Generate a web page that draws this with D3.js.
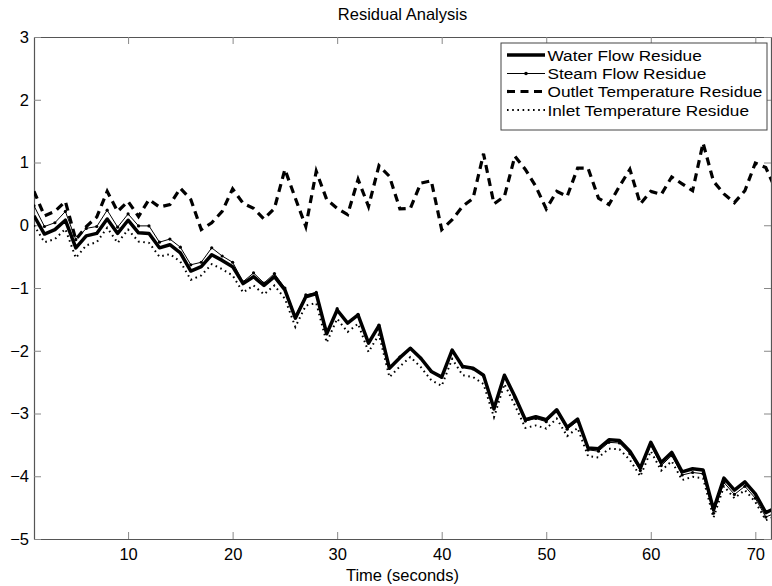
<!DOCTYPE html>
<html>
<head>
<meta charset="utf-8">
<script src="https://cdn.jsdelivr.net/npm/d3@7"></script>
<style>
  html, body { margin: 0; padding: 0; background: #fff; }
  svg { display: block; }
  text { font-family: Arial, "Liberation Sans", Helvetica, sans-serif; fill: #000; }
</style>
</head>
<body>
<svg id="chart" width="772" height="586"></svg>
<script>
// ---------------- data ----------------
const time = d3.range(1, 73); // sample times 1..72 s
const xTicks = [10, 20, 30, 40, 50, 60, 70];
const yTicks = [-5, -4, -3, -2, -1, 0, 1, 2, 3];

const waterFlow = [
  0.15, -0.14, -0.07, 0.08, -0.36, -0.17, -0.13, 0.10, -0.13, 0.08,
  -0.12, -0.13, -0.36, -0.31, -0.44, -0.73, -0.66, -0.47, -0.56, -0.66,
  -0.93, -0.82, -0.96, -0.82, -1.03, -1.48, -1.14, -1.09, -1.73, -1.35,
  -1.56, -1.43, -1.88, -1.60, -2.28, -2.11, -1.96, -2.12, -2.33, -2.42,
  -1.99, -2.25, -2.28, -2.39, -2.92, -2.39, -2.73, -3.10, -3.05, -3.10,
  -2.94, -3.22, -3.09, -3.55, -3.56, -3.42, -3.43, -3.60, -3.87, -3.46,
  -3.78, -3.62, -3.93, -3.88, -3.90, -4.53, -4.03, -4.22, -4.09, -4.28,
  -4.58, -4.50
];
const steamFlow = [
  0.31, -0.02, 0.04, 0.22, -0.23, -0.05, -0.02, 0.24, -0.03, 0.18,
  -0.01, -0.01, -0.27, -0.22, -0.35, -0.63, -0.59, -0.36, -0.49, -0.59,
  -0.90, -0.76, -0.92, -0.77, -1.00, -1.45, -1.11, -1.07, -1.71, -1.33,
  -1.55, -1.42, -1.87, -1.59, -2.27, -2.10, -1.96, -2.12, -2.33, -2.42,
  -2.00, -2.26, -2.29, -2.40, -2.93, -2.41, -2.75, -3.12, -3.08, -3.13,
  -2.97, -3.25, -3.12, -3.58, -3.60, -3.46, -3.47, -3.64, -3.91, -3.51,
  -3.83, -3.67, -3.98, -3.94, -3.96, -4.59, -4.10, -4.29, -4.16, -4.35,
  -4.65, -4.58
];
const outletTemp = [
  0.54, 0.15, 0.22, 0.38, -0.23, -0.02, 0.13, 0.54, 0.22, 0.38,
  0.14, 0.41, 0.29, 0.33, 0.59, 0.41, -0.07, 0.04, 0.22, 0.58,
  0.35, 0.27, 0.10, 0.27, 0.89, 0.43, -0.02, 0.86, 0.41, 0.27,
  0.17, 0.73, 0.30, 0.95, 0.78, 0.26, 0.27, 0.67, 0.71, -0.07,
  0.09, 0.30, 0.43, 1.14, 0.34, 0.46, 1.10, 0.89, 0.62, 0.26,
  0.54, 0.46, 0.91, 0.91, 0.43, 0.33, 0.62, 0.89, 0.34, 0.54,
  0.49, 0.77, 0.66, 0.55, 1.31, 0.70, 0.50, 0.36, 0.55, 0.99,
  0.92, 0.55
];
const inletTemp = [
  0.00, -0.27, -0.22, -0.06, -0.52, -0.32, -0.27, -0.04, -0.28, -0.07,
  -0.26, -0.28, -0.50, -0.46, -0.58, -0.87, -0.80, -0.62, -0.70, -0.80,
  -1.07, -0.96, -1.10, -0.96, -1.17, -1.62, -1.28, -1.24, -1.87, -1.49,
  -1.70, -1.57, -2.02, -1.74, -2.42, -2.25, -2.10, -2.26, -2.47, -2.56,
  -2.13, -2.39, -2.42, -2.53, -3.06, -2.53, -2.87, -3.23, -3.19, -3.24,
  -3.08, -3.36, -3.23, -3.68, -3.70, -3.56, -3.57, -3.74, -4.00, -3.60,
  -3.91, -3.76, -4.06, -4.01, -4.03, -4.66, -4.16, -4.35, -4.22, -4.41,
  -4.70, -4.63
];
const seriesNames = ["Water Flow Residue", "Steam Flow Residue", "Outlet Temperature Residue", "Inlet Temperature Residue"];

// ---------------- layout ----------------
const L = 34, R = 771, T = 37, B = 539;
const svg = d3.select("#chart");

const x = d3.scaleLinear().domain([1, 71.5]).range([L, R]);
const y = d3.scaleLinear().domain([-5, 3]).range([B, T]);

svg.append("defs").append("clipPath").attr("id", "plotclip")
  .append("rect").attr("x", L).attr("y", T).attr("width", R - L).attr("height", B - T);

// title and label
svg.append("text").attr("x", (L + R) / 2).attr("y", 20).attr("text-anchor", "middle")
  .style("font-size", "16.5px").text("Residual Analysis");
svg.append("text").attr("x", (L + R) / 2).attr("y", 581).attr("text-anchor", "middle")
  .style("font-size", "16.5px").text("Time (seconds)");

// axes
const tickLen = 7;
const gx = svg.append("g").attr("transform", `translate(0,${B})`)
  .call(d3.axisBottom(x).tickValues(xTicks).tickSizeInner(-tickLen).tickSizeOuter(0).tickPadding(9));
const gxt = svg.append("g").attr("transform", `translate(0,${T})`)
  .call(d3.axisTop(x).tickValues(xTicks).tickSizeInner(-tickLen).tickSizeOuter(0).tickFormat(""));
const gy = svg.append("g").attr("transform", `translate(${L},0)`)
  .call(d3.axisLeft(y).tickValues(yTicks).tickSizeInner(-tickLen).tickSizeOuter(0).tickPadding(5));
const gyr = svg.append("g").attr("transform", `translate(${R},0)`)
  .call(d3.axisRight(y).tickValues(yTicks).tickSizeInner(-tickLen).tickSizeOuter(0).tickFormat(""));

[gx, gxt, gy, gyr].forEach(g => {
  g.select(".domain").attr("stroke", "#555").attr("stroke-width", 1.2);
  g.selectAll(".tick line").attr("stroke", "#888").attr("stroke-width", 1);
  g.selectAll(".tick text").style("font-size", "16.5px").style("font-family", "Arial, 'Liberation Sans', sans-serif").attr("fill", "#000");
});

// lines
const plot = svg.append("g").attr("clip-path", "url(#plotclip)");
const line = d3.line().x((d, i) => x(time[i])).y(d => y(d));

plot.append("path").datum(waterFlow).attr("d", line)
  .attr("fill", "none").attr("stroke", "#000").attr("stroke-width", 3.5).attr("stroke-linejoin", "round");
plot.append("path").datum(steamFlow).attr("d", line)
  .attr("fill", "none").attr("stroke", "#000").attr("stroke-width", 1);
plot.selectAll(".steamdot").data(steamFlow).enter().append("circle")
  .attr("cx", (d, i) => x(time[i])).attr("cy", d => y(d)).attr("r", 1.6).attr("fill", "#000");
plot.append("path").datum(outletTemp).attr("d", line)
  .attr("fill", "none").attr("stroke", "#000").attr("stroke-width", 3.2).attr("stroke-dasharray", "8,5.5");
plot.append("path").datum(inletTemp).attr("d", line)
  .attr("fill", "none").attr("stroke", "#000").attr("stroke-width", 2).attr("stroke-dasharray", "1.6,3.6");

// legend
const lg = svg.append("g");
const lx0 = 501, ly0 = 43, lw = 266, lh = 87;
lg.append("rect").attr("x", lx0).attr("y", ly0).attr("width", lw).attr("height", lh)
  .attr("fill", "#fff").attr("stroke", "#444").attr("stroke-width", 1);
const rowY = [55, 73.5, 91.5, 110];
const styles = [
  { w: 3.5, dash: null, dot: false },
  { w: 1, dash: null, dot: true },
  { w: 3.2, dash: "8,5.5", dot: false },
  { w: 2, dash: "1.6,3.6", dot: false }
];
seriesNames.forEach((name, i) => {
  const s = styles[i];
  const ln = lg.append("line").attr("x1", 507).attr("x2", 545).attr("y1", rowY[i]).attr("y2", rowY[i])
    .attr("stroke", "#000").attr("stroke-width", s.w);
  if (s.dash) ln.attr("stroke-dasharray", s.dash);
  if (s.dot) lg.append("circle").attr("cx", 526).attr("cy", rowY[i]).attr("r", 1.8).attr("fill", "#000");
  const t = lg.append("text").attr("x", 547.5).attr("y", rowY[i]).attr("dy", "0.36em")
    .style("font-size", "15.5px").text(name);
  const len = t.node().getComputedTextLength();
  t.attr("textLength", len * 1.11).attr("lengthAdjust", "spacingAndGlyphs");
});
</script>
</body>
</html>
